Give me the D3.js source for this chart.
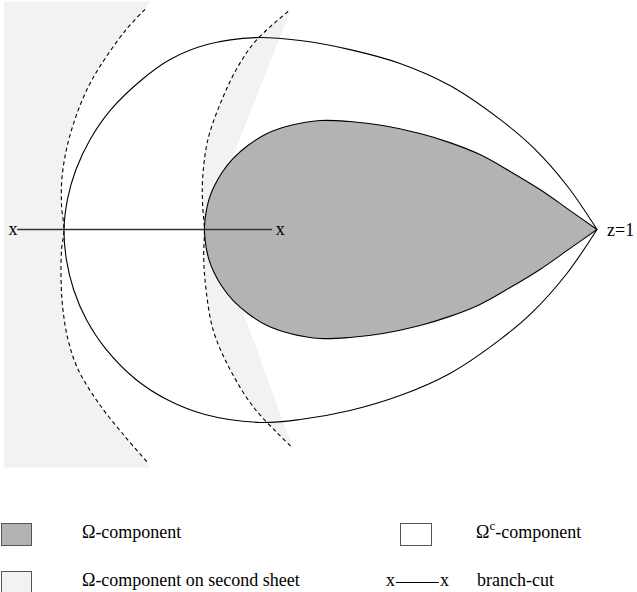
<!DOCTYPE html>
<html><head><meta charset="utf-8">
<script src="https://cdn.jsdelivr.net/npm/d3@7"></script>
<style>
html,body{margin:0;padding:0;background:#fff;}
svg{display:block;}
</style>
</head><body>
<svg id="c" width="637" height="592"></svg>
<script>
// ---- data (complex z-plane, z=1 at the cusp) ----
const outerCurve = [[1,0],[0.887,0.165],[0.760,0.308],[0.636,0.413],[0.448,0.540],[0.261,0.623],[0.073,0.675],[-0.114,0.709],[-0.280,0.720],
  [-0.463,0.694],[-0.602,0.638],[-0.707,0.563],[-0.824,0.450],[-0.902,0.338],[-0.955,0.225],[-0.987,0.113],[-1.000,0],
  [-0.991,-0.113],[-0.964,-0.225],[-0.916,-0.338],[-0.842,-0.450],[-0.730,-0.563],[-0.614,-0.638],[-0.471,-0.694],[-0.265,-0.724],
  [-0.114,-0.713],[0.073,-0.679],[0.261,-0.623],[0.448,-0.540],[0.636,-0.413],[0.760,-0.308],[0.887,-0.165],[1,0]];
const omegaCurve = [[1,0],[0.899,0.071],[0.786,0.150],[0.674,0.218],[0.561,0.281],[0.448,0.326],[0.336,0.360],[0.197,0.390],[0.073,0.405],[-0.039,0.409],
  [-0.152,0.390],[-0.238,0.360],[-0.310,0.315],[-0.366,0.266],[-0.407,0.214],[-0.437,0.161],[-0.456,0.113],[-0.467,0.064],[-0.473,0],
  [-0.467,-0.064],[-0.456,-0.113],[-0.437,-0.161],[-0.407,-0.214],[-0.366,-0.266],[-0.310,-0.315],[-0.238,-0.360],[-0.152,-0.390],
  [-0.039,-0.409],[0.073,-0.405],[0.197,-0.390],[0.336,-0.360],[0.448,-0.326],[0.561,-0.281],[0.674,-0.218],[0.786,-0.150],[0.899,-0.071],[1,0]];
const sheetCurve1 = [[-0.696,0.826],[-0.767,0.750],[-0.865,0.612],[-0.914,0.525],[-0.959,0.413],[-0.991,0.300],[-1.008,0.188],[-1.009,0.086],[-1.000,0],
  [-1.009,-0.075],[-1.011,-0.188],[-1.004,-0.300],[-0.985,-0.413],[-0.947,-0.525],[-0.872,-0.649],[-0.771,-0.777],[-0.689,-0.871]];
const sheetCurve2 = [[-0.159,0.818],[-0.276,0.713],[-0.347,0.612],[-0.407,0.488],[-0.460,0.338],[-0.480,0.188],[-0.480,0.094],[-0.473,0],
  [-0.476,-0.094],[-0.471,-0.188],[-0.441,-0.375],[-0.377,-0.525],[-0.291,-0.664],[-0.201,-0.762],[-0.144,-0.818]];
const sheetRegion1Corners = [[-1.225,0.856],[-0.677,0.856],[-0.677,-0.893],[-1.225,-0.893]];
const sheetRegion2Edge = [[-0.141,-0.822],[-0.400,-0.113],[-0.430,0.113],[-0.152,0.818]];
const branchPoints = [-1.191,-0.189];
const cuspPoint = [1,0];
const cuspLabel = "z=1";
const legendLabels = ["Ω-component","c","-component","Ω-component on second sheet","branch-cut"];

// ---- scales ----
const xScale = d3.scaleLinear().domain([-1,1]).range([64,597]);
const yScale = d3.scaleLinear().domain([0,1]).range([229.5,229.5-266.5]);

const FONT = "Liberation Serif";
const svg = d3.select("#c");
const smooth = d3.line().x(d=>xScale(d[0])).y(d=>yScale(d[1])).curve(d3.curveCatmullRom.alpha(0.5));
const P = d=>xScale(d[0])+","+yScale(d[1]);
function txt(parent,x,y,s){
  return parent.append("text").attr("x",x).attr("y",y).attr("font-family",FONT).attr("font-size",18).attr("fill","#000").text(s);
}

const LIGHT="#f2f2f2", DARK="#b3b3b3";

// left second-sheet region
{
  const c = sheetRegion1Corners;
  const curve = smooth(sheetCurve1).replace(/^M/,"L");
  const d = "M"+P(c[0])+"L"+P(c[1])+curve+"L"+P(c[2])+"L"+P(c[3])+"Z";
  svg.append("path").attr("d",d).attr("fill",LIGHT).attr("stroke","none");
}
// wedge second-sheet region
{
  const e = sheetRegion2Edge;
  const d = smooth(sheetCurve2)+e.map(p=>"L"+P(p)).join("")+"Z";
  svg.append("path").attr("d",d).attr("fill",LIGHT).attr("stroke","none");
}
// outer curve (boundary of Omega^c component)
svg.append("path").attr("d",smooth(outerCurve)).attr("fill","none").attr("stroke","#000").attr("stroke-width",1.1);
// omega component
svg.append("path").attr("d",smooth(omegaCurve)+"Z").attr("fill",DARK).attr("stroke","#000").attr("stroke-width",1.1);
// branch cut
svg.append("line").attr("x1",xScale(branchPoints[0])+4).attr("x2",xScale(branchPoints[1])-8)
  .attr("y1",yScale(0)).attr("y2",yScale(0)).attr("stroke","#333").attr("stroke-width",1.3);
branchPoints.forEach(b=>{
  txt(svg,xScale(b),yScale(0)+5,"x").attr("text-anchor","middle");
});
// dashed curves
[sheetCurve1,sheetCurve2].forEach(c=>{
  svg.append("path").attr("d",smooth(c)).attr("fill","none").attr("stroke","#000").attr("stroke-width",1.1).attr("stroke-dasharray","4,3");
});
// z=1 label
txt(svg,xScale(cuspPoint[0])+10,yScale(cuspPoint[1])+6.5,cuspLabel);

// ---- legend ----
const lg = svg.append("g");
lg.append("rect").attr("x",1.5).attr("y",523.5).attr("width",30).attr("height",22).attr("fill",DARK).attr("stroke","#555");
txt(lg,82,538,legendLabels[0]);
lg.append("rect").attr("x",400.5).attr("y",523.5).attr("width",31).attr("height",22).attr("fill","#fff").attr("stroke","#555");
const t2 = txt(lg,476,538,"");
t2.append("tspan").text("Ω");
t2.append("tspan").attr("dy",-8).attr("font-size",13).text(legendLabels[1]);
t2.append("tspan").attr("dy",8).text(legendLabels[2]);
lg.append("rect").attr("x",1.5).attr("y",571.5).attr("width",30).attr("height",22).attr("fill",LIGHT).attr("stroke","#555");
txt(lg,82,586,legendLabels[3]);
txt(lg,386,586,"x");
lg.append("line").attr("x1",396).attr("x2",439).attr("y1",582.5).attr("y2",582.5).attr("stroke","#000").attr("stroke-width",1);
txt(lg,440,586,"x");
txt(lg,477,586,legendLabels[4]);
</script>
</body></html>
